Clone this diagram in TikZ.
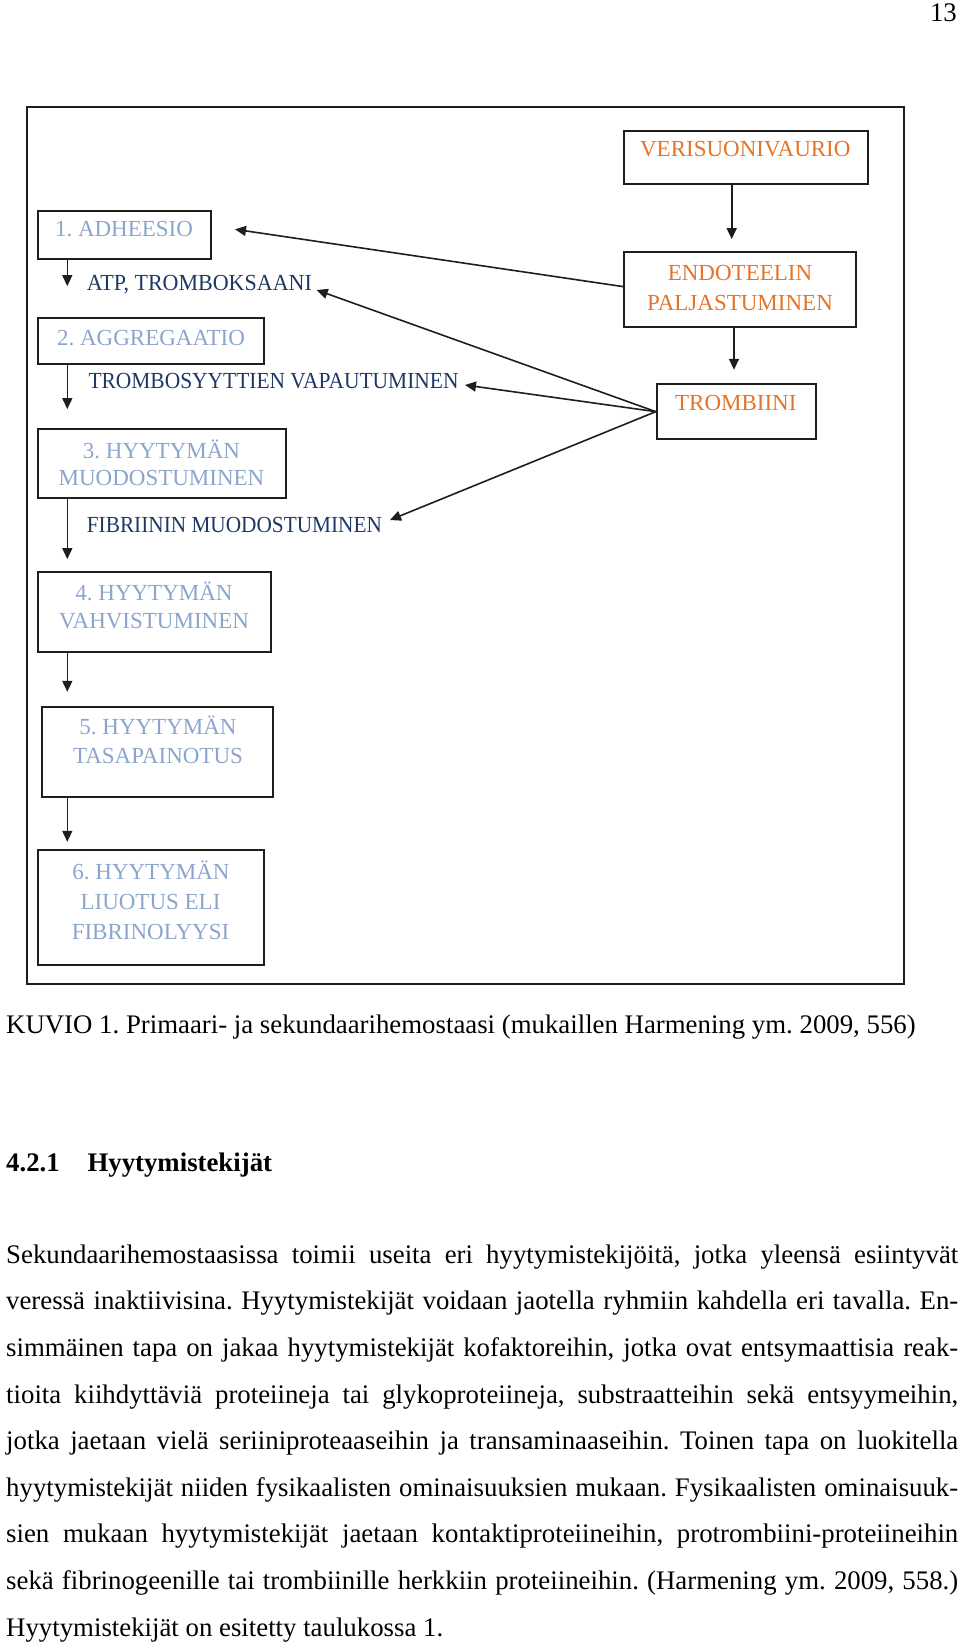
\documentclass[tikz,border=0pt]{standalone}
\usepackage{fontspec}
\setmainfont{Liberation Serif}
\usepackage{graphicx}
\usetikzlibrary{arrows.meta}
\definecolor{stepblue}{RGB}{140,165,205}
\definecolor{navyc}{RGB}{30,56,100}
\definecolor{orng}{RGB}{228,116,40}
\definecolor{linec}{RGB}{30,30,30}
\frenchspacing
\tikzset{
  boxn/.style={draw=linec, line width=1.8pt, rectangle, inner sep=0pt},
  steptxt/.style={text=stepblue, font=\fontsize{23}{27}\selectfont, anchor=base, inner sep=0pt},
  subtxt/.style={text=navyc, font=\fontsize{23}{27}\selectfont, anchor=base west, inner sep=0pt},
  rtxt/.style={text=orng, font=\fontsize{23}{27}\selectfont, anchor=base, inner sep=0pt},
  arr/.style={draw=linec, line width=1.6pt, -{Triangle[length=11pt,width=10pt]}},
  bodytxt/.style={font=\fontsize{26.8}{46}\selectfont, anchor=base west, inner sep=0pt},
  frame/.style={draw=linec, line width=1.7pt}
}
\newcommand{\jl}[1]{\makebox[952pt][s]{#1}}
\begin{document}
\begin{tikzpicture}[x=1pt,y=-1pt]
\useasboundingbox (0,0) rectangle (960,1644);
% page number
\node[bodytxt, anchor=base east] (pg) at (957,21.7) {13};
% frame
\draw[frame] (27.3,106.7) rectangle (904,984);
% left boxes
\node[boxn, minimum width=172.4pt, minimum height=48.6pt] (b1) at (124.5,235) {};
\node[boxn, minimum width=225.7pt, minimum height=46pt] (b2) at (151.15,341.3) {};
\node[boxn, minimum width=247.4pt, minimum height=69.3pt] (b3) at (162,463.65) {};
\node[boxn, minimum width=232.7pt, minimum height=80.3pt] (b4) at (154.65,611.85) {};
\node[boxn, minimum width=231pt, minimum height=89.4pt] (b5) at (157.2,752) {};
\node[boxn, minimum width=225.7pt, minimum height=115pt] (b6) at (151.15,907.5) {};
% right boxes
\node[boxn, minimum width=244pt, minimum height=53.6pt] (r1) at (746.3,157.5) {};
\node[boxn, minimum width=231.4pt, minimum height=75.3pt] (r2) at (740,289.65) {};
\node[boxn, minimum width=159pt, minimum height=55.3pt] (r3) at (736.2,411.65) {};
% box texts
\node[steptxt] (b1t) at (124,236.7) {1. ADHEESIO};
\node[steptxt] (b2t) at (151,345.8) {2. AGGREGAATIO};
\node[steptxt] (b3t1) at (161.5,458.2) {3. HYYTYMÄN};
\node[steptxt] (b3t2) at (161.5,485.8) {MUODOSTUMINEN};
\node[steptxt] (b4t1) at (154,600.8) {4. HYYTYMÄN};
\node[steptxt] (b4t2) at (154,628.2) {VAHVISTUMINEN};
\node[steptxt] (b5t1) at (158,734.8) {5. HYYTYMÄN};
\node[steptxt] (b5t2) at (158,763.5) {TASAPAINOTUS};
\node[steptxt] (b6t1) at (151,879.2) {6. HYYTYMÄN};
\node[steptxt] (b6t2) at (150.5,909.2) {LIUOTUS ELI};
\node[steptxt] (b6t3) at (150.5,939.2) {FIBRINOLYYSI};
\node[rtxt] (r1t) at (745.3,156.8) {VERISUONIVAURIO};
\node[rtxt] (r2t1) at (740,280.8) {ENDOTEELIN};
\node[rtxt] (r2t2) at (740,310.8) {PALJASTUMINEN};
\node[rtxt] (r3t) at (735.8,410.8) {TROMBIINI};
% sub labels
\node[subtxt] (s1) at (86.7,290.3) {\resizebox{225pt}{\height}{ATP, TROMBOKSAANI}};
\node[subtxt] (s2) at (88.3,388.3) {\resizebox{370pt}{\height}{TROMBOSYYTTIEN VAPAUTUMINEN}};
\node[subtxt] (s3) at (86.7,532.5) {\resizebox{295pt}{\height}{FIBRIININ MUODOSTUMINEN}};
% vertical arrows
\coordinate (ax) at (67.3,0);
\coordinate (rx1) at (731.7,0);
\coordinate (rx2) at (734,0);
\draw[arr, shorten >=31.3pt] (b1.south -| ax) -- (b2.north -| ax);
\draw[arr, shorten >=19pt] (b2.south -| ax) -- (b3.north -| ax);
\draw[arr, shorten >=11.7pt] (b3.south -| ax) -- (b4.north -| ax);
\draw[arr, shorten >=14.6pt] (b4.south -| ax) -- (b5.north -| ax);
\draw[arr, shorten >=7.3pt] (b5.south -| ax) -- (b6.north -| ax);
\draw[arr, shorten >=12pt] (r1.south -| rx1) -- (r2.north -| rx1);
\draw[arr, shorten >=13.3pt] (r2.south -| rx2) -- (r3.north -| rx2);
% slanted arrows
\coordinate (t1) at (235,229.3);
\coordinate (t2) at (316.7,290);
\coordinate (t3) at (465,385);
\coordinate (t4) at (390,520);
\draw[arr] ([yshift=3pt]r2.west) -- (t1);
\draw[arr] (r3.west) -- (t2);
\draw[arr] (r3.west) -- (t3);
\draw[arr] (r3.west) -- (t4);
% caption and body
\node[bodytxt] (cap) at (6,1033.3) {KUVIO 1. Primaari- ja sekundaarihemostaasi (mukaillen Harmening ym. 2009, 556)};
\node[bodytxt, font=\fontsize{26.8}{46}\selectfont\bfseries] (h1) at (6,1171.7) {4.2.1};
\node[bodytxt, font=\fontsize{26.8}{46}\selectfont\bfseries] (h2) at (87.3,1171.7) {Hyytymistekijät};
\node[bodytxt] (p1) at (6,1263.3) {\jl{Sekundaarihemostaasissa toimii useita eri hyytymistekijöitä, jotka yleensä esiintyvät}};
\node[bodytxt] (p2) at (6,1309.9) {\jl{veressä inaktiivisina. Hyytymistekijät voidaan jaotella ryhmiin kahdella eri tavalla. En-}};
\node[bodytxt] (p3) at (6,1356.5) {\jl{simmäinen tapa on jakaa hyytymistekijät kofaktoreihin, jotka ovat entsymaattisia reak-}};
\node[bodytxt] (p4) at (6,1403.1) {\jl{tioita kiihdyttäviä proteiineja tai glykoproteiineja, substraatteihin sekä entsyymeihin,}};
\node[bodytxt] (p5) at (6,1449.7) {\jl{jotka jaetaan vielä seriiniproteaaseihin ja transaminaaseihin. Toinen tapa on luokitella}};
\node[bodytxt] (p6) at (6,1496.3) {\jl{hyytymistekijät niiden fysikaalisten ominaisuuksien mukaan. Fysikaalisten ominaisuuk-}};
\node[bodytxt] (p7) at (6,1542.9) {\jl{sien mukaan hyytymistekijät jaetaan kontaktiproteiineihin, protrombiini-proteiineihin}};
\node[bodytxt] (p8) at (6,1589.5) {\jl{sekä fibrinogeenille tai trombiinille herkkiin proteiineihin. (Harmening ym. 2009, 558.)}};
\node[bodytxt] (p9) at (6,1636.1) {Hyytymistekijät on esitetty taulukossa 1.};
\end{tikzpicture}
\end{document}
